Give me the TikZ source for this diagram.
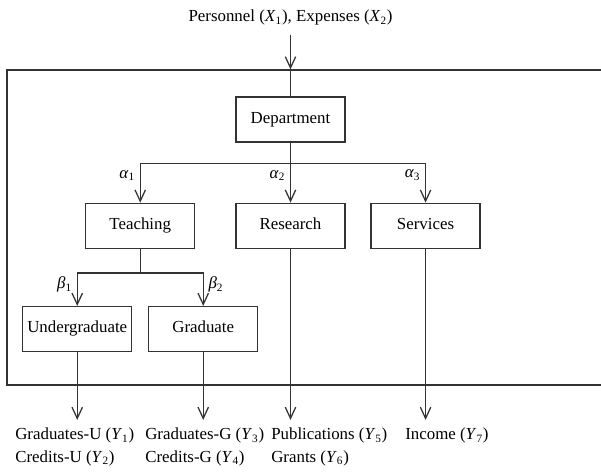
\documentclass[tikz,border=0pt]{standalone}
\usepackage{fontspec}
\setmainfont{Liberation Serif}
\usepackage{tikz}
\usetikzlibrary{arrows.meta, positioning, calc}
\tikzstyle{unit} = [rectangle, minimum width=2.725cm, minimum height=1.125cm, inner xsep=1pt, text height=1.6ex, text depth=0.4ex, text centered, draw=black!80, line width=0.9pt]
\tikzstyle{arrow} = [line width=0.9pt, draw=black!80, -{Straight Barb[length=2.8mm,width=2.6mm]}]
\tikzstyle{line} = [line width=0.9pt, draw=black!80]
\tikzstyle{output} = [anchor=north west, inner sep=0pt, align=left]
\newcommand{\vsub}[2]{\textit{#1}\textsubscript{#2}}

\begin{document}
\begin{tikzpicture}[node distance=1.5cm, font=\fontsize{12}{16}\selectfont]
  \useasboundingbox (-7.2625,2.9875) rectangle (7.7625,-8.8875);
  \node (dept) [unit] {Department};
  \node (res) [unit, below=1.5cm of dept] {Research};
  \node (teach) [unit, left=1cm of res] {Teaching};
  \node (serv) [unit, right=0.62cm of res] {Services};
  \node (ug) [unit, below=1.425cm of teach, xshift=-1.575cm] {Undergraduate};
  \node (grad) [unit, below=1.425cm of teach, xshift=1.575cm] {Graduate};
  \node (inp) at (0,2.54) {Personnel (\vsub{X}{1}), Expenses (\vsub{X}{2})};
  \node (outU) [output] at (-6.8875,-7.71) {Graduates-U (\vsub{Y}{1})\\Credits-U (\vsub{Y}{2})};
  \node (outG) [output] at (-3.6375,-7.71) {Graduates-G (\vsub{Y}{3})\\Credits-G (\vsub{Y}{4})};
  \node (outR) [output] at (-0.4875,-7.71) {Publications (\vsub{Y}{5})\\Grants (\vsub{Y}{6})};
  \node (outS) [output] at (2.8625,-7.71) {Income (\vsub{Y}{7})};
  \draw[line] (7.7625,1.2375) -| (-7.0875,-6.6375) -- (7.7625,-6.6375);
  \coordinate (entry) at ($(dept.north)+(0,0.675)$);
  \coordinate (split) at ($(dept.south)+(0,-0.525)$);
  \coordinate (tsplit) at ($(teach.south)+(0,-0.6)$);
  \coordinate (tipU) at ($(ug |- outU.north)+(0,0.2)$);
  \coordinate (tipG) at ($(grad |- outU.north)+(0,0.2)$);
  \coordinate (tipR) at ($(res |- outU.north)+(0,0.2)$);
  \coordinate (tipS) at ($(serv |- outU.north)+(0,0.2)$);
  \draw[arrow, shorten <=3pt] (inp) -- (entry);
  \draw[line] (entry) -- (dept);
  \draw[line] (dept) -- (split);
  \draw[arrow] (split) -| node[pos=0.65, left] {\vsub{α}{1}} (teach);
  \draw[arrow] (split) -- node[pos=0.3, left] {\vsub{α}{2}} (res);
  \draw[arrow] (split) -| node[pos=0.65, left] {\vsub{α}{3}} (serv);
  \draw[line] (teach) -- (tsplit);
  \draw[arrow] (tsplit) -| node[pos=0.68, left] {\vsub{β}{1}} (ug);
  \draw[arrow] (tsplit) -| node[pos=0.68, right] {\vsub{β}{2}} (grad);
  \draw[arrow] (ug) -- (tipU);
  \draw[arrow] (grad) -- (tipG);
  \draw[arrow] (res) -- (tipR);
  \draw[arrow] (serv) -- (tipS);
\end{tikzpicture}
\end{document}
